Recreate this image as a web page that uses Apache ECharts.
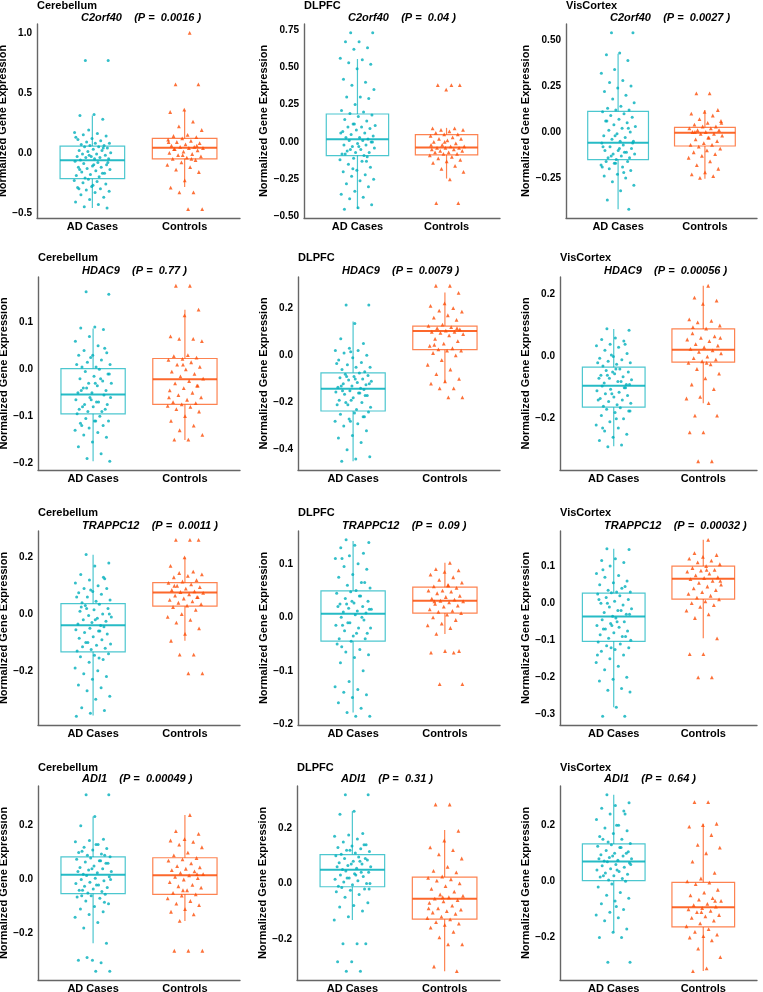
<!DOCTYPE html>
<html>
<head>
<meta charset="utf-8">
<title>Normalized gene expression, AD cases vs controls</title>
<script src="https://cdn.jsdelivr.net/npm/echarts@6/dist/echarts.min.js"></script>
<style>
html, body { margin: 0; padding: 0; background: #fff; }
#chart { width: 763px; height: 992px; }
</style>
</head>
<body>
<div id="chart"></div>
<script>
// panel labels
var regions = ['Cerebellum', 'DLPFC', 'VisCortex'];
var genes = ['C2orf40', 'HDAC9', 'TRAPPC12', 'ADI1'];
var groups = ['AD Cases', 'Controls'];
var pvals = [
  ['0.0016', '0.04', '0.0027'],
  ['0.77', '0.0079', '0.00056'],
  ['0.0011', '0.09', '0.00032'],
  ['0.00049', '0.31', '0.64']
];

// y tick labels, per gene row, one list per region
var ticksC2orf40 = [[-0.5, 0, 0.5, 1.0], [-0.5, -0.25, 0, 0.25, 0.5, 0.75], [-0.25, 0, 0.25, 0.5]];
var ticksHDAC9 = [[-0.2, -0.1, 0, 0.1], [-0.4, -0.2, 0, 0.2], [-0.2, 0, 0.2]];
var ticksTRAPPC12 = [[-0.2, 0, 0.2], [-0.2, -0.1, 0, 0.1], [-0.3, -0.2, -0.1, 0, 0.1]];
var ticksADI1 = [[-0.2, 0, 0.2], [-0.2, 0, 0.2], [-0.2, 0, 0.2]];

// box stats [lower whisker, Q1, median, Q3, upper whisker]; [AD, Controls] per region
var boxC2orf40 = [
  [[-0.46, -0.216, -0.062, 0.056, 0.31], [-0.286, -0.05, 0.042, 0.12, 0.353]],
  [[-0.448, -0.091, 0.018, 0.187, 0.555], [-0.245, -0.087, -0.038, 0.049, 0.094]],
  [[-0.42, -0.150, -0.058, 0.112, 0.426], [-0.254, -0.076, -0.004, 0.025, 0.12]]
];
var boxHDAC9 = [
  [[-0.196, -0.095, -0.054, 0.0014, 0.087], [-0.151, -0.075, -0.021, 0.023, 0.127]],
  [[-0.449, -0.236, -0.142, -0.074, 0.143], [-0.117, 0.024, 0.103, 0.124, 0.267]],
  [[-0.289, -0.163, -0.094, -0.034, 0.089], [-0.15, -0.018, 0.022, 0.089, 0.228]]
];
var boxTRAPPC12 = [
  [[-0.358, -0.133, -0.039, 0.037, 0.209], [-0.094, 0.028, 0.076, 0.111, 0.2]],
  [[-0.178, -0.0446, 0.0068, 0.0496, 0.1426], [-0.031, 0.008, 0.031, 0.0564, 0.102]],
  [[-0.281, -0.103, -0.036, 0.027, 0.147], [-0.095, 0.011, 0.066, 0.1, 0.171]]
];
var boxADI1 = [
  [[-0.2375, -0.0525, 0.0175, 0.084, 0.234], [-0.154, -0.055, 0.016, 0.081, 0.24]],
  [[-0.132, -0.012, 0.0496, 0.104, 0.261], [-0.317, -0.129, -0.0556, 0.023, 0.193]],
  [[-0.181, 0.0024, 0.071, 0.133, 0.308], [-0.319, -0.1625, -0.0925, -0.0036, 0.205]]
];

// individual samples, AD cases (per region)
var casesC2orf40 = [
  [0.77,0.77,0.32,0.31,0.28,0.19,0.17,0.16,0.15,0.14,0.12,0.11,0.10,0.09,0.08,0.08,0.07,0.06,0.06,0.13,
   0.05,0.05,0.04,0.03,0.02,0.02,0.01,0.0,-0.01,-0.01,-0.02,-0.03,-0.03,-0.04,-0.04,-0.05,-0.05,-0.06,0.04,-0.02,
   -0.07,-0.08,-0.09,-0.10,-0.11,-0.12,-0.12,-0.13,-0.14,-0.15,-0.16,-0.17,-0.18,-0.19,-0.20,-0.21,-0.08,-0.10,-0.14,-0.17,
   -0.22,-0.23,-0.24,-0.25,-0.26,-0.28,-0.29,-0.30,-0.31,-0.32,-0.33,-0.35,-0.37,-0.39,-0.41,-0.43,-0.45,-0.46,-0.27,-0.30],
  [0.73,0.73,0.67,0.67,0.63,0.62,0.56,0.55,0.53,0.52,0.49,0.42,0.40,0.38,0.35,0.30,0.30,0.29,0.25,0.21,0.20,0.19,
   0.18,0.17,0.15,0.14,0.12,0.11,0.10,0.10,0.09,0.08,0.07,0.06,0.05,0.04,0.03,0.03,0.02,0.12,0.06,0.01,
   0.01,0.0,-0.01,-0.02,-0.02,-0.03,-0.04,-0.05,-0.06,-0.07,-0.07,-0.08,-0.09,-0.05,0.0,-0.03,-0.08,
   -0.10,-0.11,-0.12,-0.13,-0.15,-0.17,-0.19,-0.20,-0.22,-0.23,-0.25,-0.26,-0.28,-0.30,-0.33,-0.35,-0.37,-0.38,-0.42,-0.44,-0.45,-0.13,-0.18],
  [0.54,0.54,0.43,0.42,0.39,0.34,0.32,0.28,0.27,0.25,0.24,0.22,0.20,0.18,0.16,0.14,0.13,0.12,0.12,0.11,
   0.10,0.09,0.08,0.07,0.06,0.05,0.04,0.03,0.02,0.01,0.0,-0.01,-0.02,-0.03,-0.04,-0.05,-0.05,0.06,0.02,-0.02,
   -0.06,-0.07,-0.08,-0.09,-0.10,-0.10,-0.11,-0.12,-0.12,-0.13,-0.14,-0.14,-0.15,-0.08,-0.11,-0.13,-0.06,-0.09,
   -0.16,-0.16,-0.17,-0.18,-0.19,-0.20,-0.21,-0.23,-0.24,-0.25,-0.27,-0.29,-0.32,-0.37,-0.42,-0.17,-0.19,-0.22]
];
var casesHDAC9 = [
  [0.165,0.16,0.09,0.088,0.085,0.07,0.06,0.05,0.04,0.035,0.03,0.03,0.02,0.015,0.01,0.005,0.005,0.045,0.025,0.01,
   0.0,-0.005,-0.01,-0.015,-0.02,-0.025,-0.03,-0.03,-0.035,-0.04,-0.045,-0.05,-0.05,-0.02,-0.04,-0.01,-0.03,-0.045,
   -0.055,-0.06,-0.065,-0.07,-0.075,-0.075,-0.08,-0.085,-0.09,-0.09,-0.06,-0.07,-0.08,-0.085,-0.065,-0.095,
   -0.1,-0.105,-0.11,-0.11,-0.115,-0.12,-0.125,-0.13,-0.135,-0.14,-0.145,-0.155,-0.165,-0.18,-0.19,-0.196,-0.11,-0.12],
  [0.213,0.213,0.135,0.07,0.05,0.03,0.02,0.02,0.01,0.0,-0.01,-0.02,-0.03,-0.04,-0.05,-0.05,-0.06,-0.07,0.015,-0.035,
   -0.075,-0.08,-0.085,-0.09,-0.095,-0.1,-0.105,-0.11,-0.115,-0.12,-0.125,-0.13,-0.135,-0.14,-0.09,-0.12,-0.1,-0.13,
   -0.145,-0.15,-0.155,-0.16,-0.165,-0.17,-0.18,-0.19,-0.2,-0.21,-0.22,-0.23,-0.15,-0.17,-0.19,-0.21,-0.16,-0.2,
   -0.24,-0.245,-0.25,-0.26,-0.27,-0.28,-0.29,-0.3,-0.32,-0.34,-0.35,-0.37,-0.4,-0.43,-0.44,-0.449,-0.26,-0.28],
  [0.09,0.085,0.06,0.055,0.05,0.04,0.035,0.03,0.02,0.01,0.0,-0.005,-0.01,-0.015,-0.02,-0.025,-0.03,0.04,0.005,-0.02,
   -0.04,-0.045,-0.05,-0.055,-0.06,-0.065,-0.07,-0.075,-0.08,-0.085,-0.09,-0.05,-0.07,-0.08,-0.06,-0.09,-0.04,
   -0.095,-0.1,-0.105,-0.11,-0.115,-0.12,-0.125,-0.13,-0.135,-0.14,-0.145,-0.15,-0.155,-0.16,-0.1,-0.12,-0.14,
   -0.165,-0.17,-0.175,-0.18,-0.19,-0.2,-0.21,-0.22,-0.23,-0.24,-0.25,-0.26,-0.27,-0.285,-0.29,-0.175,-0.2,-0.23]
];
var casesTRAPPC12 = [
  [0.21,0.18,0.17,0.14,0.13,0.12,0.11,0.1,0.09,0.09,0.08,0.075,0.07,0.06,0.05,0.045,0.04,0.125,0.085,0.06,
   0.035,0.03,0.02,0.015,0.01,0.0,-0.005,-0.01,-0.015,-0.02,-0.025,-0.03,-0.035,-0.04,0.02,0.0,-0.02,0.025,
   -0.045,-0.05,-0.055,-0.06,-0.065,-0.07,-0.08,-0.085,-0.09,-0.1,-0.105,-0.11,-0.115,-0.12,-0.125,-0.13,-0.06,-0.1,
   -0.14,-0.145,-0.15,-0.16,-0.17,-0.19,-0.2,-0.21,-0.22,-0.23,-0.25,-0.26,-0.27,-0.29,-0.3,-0.33,-0.34,-0.35,-0.36,-0.155],
  [0.145,0.14,0.135,0.13,0.12,0.115,0.11,0.1,0.095,0.09,0.08,0.075,0.065,0.06,0.055,0.05,0.11,0.065,
   0.048,0.045,0.04,0.035,0.03,0.027,0.025,0.02,0.017,0.015,0.012,0.01,0.008,0.03,0.02,0.04,0.025,0.015,
   0.005,0.0,-0.005,-0.01,-0.015,-0.02,-0.025,-0.03,-0.035,-0.04,0.0,-0.01,-0.02,-0.03,-0.015,-0.04,
   -0.045,-0.05,-0.06,-0.065,-0.07,-0.075,-0.085,-0.1,-0.12,-0.13,-0.135,-0.14,-0.145,-0.15,-0.16,-0.17,-0.178,-0.185,-0.185,-0.055],
  [0.147,0.145,0.12,0.115,0.11,0.1,0.08,0.075,0.07,0.06,0.055,0.05,0.04,0.035,0.03,0.03,0.09,0.045,0.028,
   0.025,0.02,0.015,0.01,0.005,0.0,-0.005,-0.01,-0.015,-0.02,-0.025,-0.03,-0.035,0.01,-0.02,0.0,-0.03,
   -0.04,-0.045,-0.05,-0.055,-0.06,-0.065,-0.07,-0.075,-0.08,-0.085,-0.09,-0.095,-0.1,-0.05,-0.07,-0.09,-0.06,
   -0.105,-0.11,-0.115,-0.12,-0.125,-0.13,-0.14,-0.15,-0.16,-0.17,-0.18,-0.2,-0.205,-0.21,-0.23,-0.235,-0.24,-0.281,-0.305,-0.305,-0.12,-0.14]
];
var casesADI1 = [
  [0.315,0.315,0.234,0.2,0.15,0.145,0.14,0.13,0.12,0.115,0.11,0.1,0.095,0.09,0.085,0.13,0.105,0.09,
   0.08,0.075,0.07,0.065,0.06,0.05,0.045,0.04,0.035,0.03,0.025,0.02,0.06,0.04,0.03,0.07,
   0.015,0.01,0.005,0.0,-0.005,-0.01,-0.015,-0.02,-0.025,-0.03,-0.035,-0.04,-0.045,-0.05,0.0,-0.02,-0.04,
   -0.055,-0.06,-0.065,-0.07,-0.08,-0.09,-0.1,-0.11,-0.12,-0.13,-0.14,-0.16,-0.18,-0.2375,-0.3,-0.3,-0.31,-0.29,-0.341,-0.341,-0.06,-0.085],
  [0.32,0.32,0.261,0.25,0.18,0.175,0.17,0.16,0.15,0.14,0.135,0.13,0.125,0.12,0.115,0.11,0.105,0.14,0.12,
   0.1,0.095,0.09,0.085,0.08,0.075,0.07,0.065,0.06,0.055,0.05,0.09,0.07,0.06,0.08,
   0.045,0.04,0.035,0.03,0.025,0.02,0.015,0.01,0.005,0.0,-0.005,-0.01,0.04,0.02,0.0,0.03,
   -0.015,-0.02,-0.025,-0.03,-0.04,-0.05,-0.07,-0.08,-0.085,-0.1,-0.12,-0.132,-0.218,-0.218,-0.218,-0.283,-0.283,-0.317,-0.317,-0.02],
  [0.308,0.28,0.27,0.26,0.25,0.24,0.22,0.2,0.19,0.18,0.17,0.16,0.15,0.14,0.135,0.2,0.15,0.24,
   0.13,0.125,0.12,0.11,0.105,0.1,0.095,0.09,0.085,0.08,0.075,0.072,0.1,0.09,0.08,0.12,
   0.07,0.065,0.06,0.055,0.05,0.045,0.04,0.035,0.03,0.025,0.02,0.015,0.01,0.005,0.06,0.04,0.02,
   0.0,-0.01,-0.02,-0.04,-0.05,-0.06,-0.07,-0.08,-0.1,-0.11,-0.12,-0.13,-0.14,-0.17,-0.181,-0.2,-0.2,-0.288,-0.288,-0.09]
];

// individual samples, controls (per region)
var ctrlC2orf40 = [
  [1.0,0.57,0.57,0.36,0.34,0.26,0.22,0.19,0.15,0.14,0.13,0.12,0.11,0.10,0.09,0.08,0.07,0.06,0.05,0.05,0.04,0.04,0.03,0.02,
   0.01,0.0,-0.01,-0.02,-0.03,-0.04,-0.05,-0.06,-0.08,-0.10,-0.12,-0.14,-0.16,-0.23,-0.29,-0.33,-0.33,-0.47,-0.47,0.03,0.06,-0.02,0.09,-0.05],
  [0.38,0.38,0.38,0.35,0.09,0.09,0.08,0.08,0.07,0.06,0.05,0.05,0.04,0.03,0.02,0.02,0.01,0.0,-0.01,-0.02,-0.03,-0.03,-0.04,-0.04,
   -0.04,-0.05,-0.05,-0.06,-0.06,-0.07,-0.07,-0.08,-0.08,-0.09,-0.10,-0.11,-0.12,-0.13,-0.14,-0.16,-0.18,-0.20,-0.25,-0.41,-0.41,0.0,-0.02],
  [0.21,0.21,0.12,0.11,0.10,0.09,0.07,0.06,0.05,0.04,0.03,0.03,0.02,0.02,0.01,0.01,0.0,0.0,-0.01,-0.01,-0.02,-0.03,
   -0.04,-0.05,-0.06,-0.07,-0.07,-0.08,-0.09,-0.10,-0.11,-0.12,-0.13,-0.14,-0.16,-0.18,-0.20,-0.22,-0.23,-0.24,-0.25,0.05,-0.03,0.0]
];
var ctrlHDAC9 = [
  [0.178,0.178,0.127,0.115,0.07,0.065,0.065,0.06,0.03,0.028,0.025,0.022,0.02,0.015,0.01,0.005,0.0,-0.005,-0.01,-0.015,-0.02,-0.025,-0.03,
   -0.035,-0.04,-0.045,-0.05,-0.055,-0.06,-0.065,-0.07,-0.072,-0.075,-0.078,-0.08,-0.085,-0.09,-0.1,-0.11,-0.12,-0.13,-0.14,-0.15,-0.15,-0.035,0.01,-0.06],
  [0.295,0.295,0.265,0.22,0.21,0.2,0.19,0.185,0.17,0.16,0.15,0.13,0.125,0.12,0.115,0.11,0.105,0.1,0.1,0.095,0.09,0.085,0.07,
   0.06,0.05,0.04,0.03,0.025,0.02,0.02,0.01,0.0,-0.02,-0.04,-0.06,-0.08,-0.1,-0.11,-0.12,-0.14,-0.14,-0.178,-0.178,0.045,0.115],
  [0.228,0.19,0.18,0.17,0.12,0.115,0.11,0.1,0.09,0.075,0.065,0.06,0.055,0.05,0.04,0.035,0.03,0.025,0.02,0.015,0.01,0.0,
   -0.005,-0.01,-0.015,-0.02,-0.025,-0.04,-0.055,-0.07,-0.09,-0.105,-0.13,-0.135,-0.15,-0.19,-0.19,-0.244,-0.244,-0.337,-0.337,0.06,-0.02,0.095]
];
var ctrlTRAPPC12 = [
  [0.262,0.262,0.262,0.2,0.17,0.15,0.145,0.14,0.135,0.13,0.12,0.115,0.11,0.105,0.1,0.095,0.09,0.085,0.08,0.078,0.075,0.07,
   0.065,0.06,0.055,0.05,0.045,0.04,0.035,0.03,0.025,0.015,0.0,-0.01,-0.02,-0.03,-0.05,-0.07,-0.094,-0.143,-0.143,-0.209,-0.209,0.1,0.06],
  [0.102,0.09,0.088,0.085,0.08,0.075,0.07,0.065,0.06,0.058,0.055,0.05,0.05,0.048,0.045,0.04,0.038,0.035,0.033,0.031,0.03,0.028,
   0.025,0.022,0.02,0.015,0.012,0.01,0.008,0.005,0.0,-0.005,-0.012,-0.015,-0.02,-0.031,-0.063,-0.063,-0.066,-0.066,-0.125,-0.125,0.06,0.03],
  [0.171,0.135,0.13,0.125,0.12,0.115,0.11,0.105,0.1,0.095,0.09,0.088,0.085,0.08,0.075,0.07,0.068,0.065,0.06,0.055,0.05,0.045,
   0.04,0.035,0.03,0.025,0.02,0.015,0.01,0.005,0.0,-0.005,-0.01,-0.02,-0.03,-0.04,-0.095,-0.1375,-0.1375,-0.2,-0.2,0.06,0.09]
];
var ctrlADI1 = [
  [0.24,0.18,0.17,0.15,0.145,0.14,0.13,0.12,0.1,0.09,0.08,0.075,0.07,0.06,0.05,0.045,0.04,0.035,0.03,0.025,0.02,0.015,0.01,
   0.005,0.0,-0.01,-0.02,-0.025,-0.03,-0.04,-0.05,-0.055,-0.06,-0.07,-0.08,-0.09,-0.095,-0.11,-0.12,-0.13,-0.154,-0.265,-0.265,-0.265,0.02,-0.04],
  [0.285,0.285,0.19,0.155,0.13,0.12,0.105,0.09,0.06,0.045,0.04,0.025,0.02,0.015,0.01,0.0,-0.01,-0.02,-0.03,-0.04,-0.045,-0.05,-0.055,
   -0.06,-0.065,-0.07,-0.08,-0.09,-0.095,-0.1,-0.105,-0.11,-0.12,-0.125,-0.13,-0.14,-0.145,-0.15,-0.16,-0.175,-0.195,-0.22,-0.22,-0.3,-0.317,-0.05,-0.09],
  [0.282,0.282,0.205,0.2,0.195,0.165,0.13,0.12,0.1,0.07,0.03,0.01,0.0,-0.005,-0.01,-0.03,-0.04,-0.05,-0.06,-0.065,-0.07,-0.08,-0.085,
   -0.09,-0.095,-0.1,-0.105,-0.11,-0.12,-0.125,-0.13,-0.14,-0.15,-0.16,-0.17,-0.18,-0.19,-0.195,-0.2,-0.21,-0.24,-0.27,-0.31,-0.32,-0.07,-0.11]
];

var allCases = [casesC2orf40, casesHDAC9, casesTRAPPC12, casesADI1];
var allCtrl = [ctrlC2orf40, ctrlHDAC9, ctrlTRAPPC12, ctrlADI1];
var allBoxes = [boxC2orf40, boxHDAC9, boxTRAPPC12, boxADI1];
var allTicks = [ticksC2orf40, ticksHDAC9, ticksTRAPPC12, ticksADI1];

// layout (pixels)
var rowTop = [24, 277, 531, 786];
var rowBottom = [218, 470, 725, 980];
var plotLeft = [[37, 304, 566], [38, 298, 560], [38, 298, 560], [38, 297, 560]];
var plotRight = [240, 500, 757];
var nameGaps = [[25, 31, 31], [25, 25, 25], [25, 25, 25], [25, 25, 25]];
var titleY = [[6, 17.5], [258, 270.5], [513, 526], [767.5, 779]];

var colors = ['#00AFBB', '#FC4E07'];
var FONT = '"Liberation Sans", Arial, Helvetica, sans-serif';

function jitter(i) {
  return ((i * 0.6180339887 + 0.31) % 1 - 0.5) * 0.4;
}

function decimalsOf(ticks) {
  var d = 1;
  ticks.forEach(function (t) {
    var s = String(t).split('.')[1] || '';
    if (s.length > d) d = s.length;
  });
  return d;
}

function renderBox(params, api) {
  var x = api.value(0);
  var g = api.value(6);
  var half = 0.35;
  var pMin = api.coord([x, api.value(1)]);
  var pQ1 = api.coord([x, api.value(2)]);
  var pMed = api.coord([x, api.value(3)]);
  var pQ3 = api.coord([x, api.value(4)]);
  var pMax = api.coord([x, api.value(5)]);
  var xl = api.coord([x - half, 0])[0];
  var xr = api.coord([x + half, 0])[0];
  var c = colors[g];
  var thin = { stroke: c, lineWidth: 1.2, opacity: 0.7, fill: null };
  return {
    type: 'group',
    children: [
      { type: 'line', shape: { x1: pMin[0], y1: pMin[1], x2: pQ1[0], y2: pQ1[1] }, style: thin },
      { type: 'line', shape: { x1: pQ3[0], y1: pQ3[1], x2: pMax[0], y2: pMax[1] }, style: thin },
      { type: 'rect', shape: { x: xl, y: pQ3[1], width: xr - xl, height: pQ1[1] - pQ3[1] }, style: thin },
      { type: 'line', shape: { x1: xl, y1: pMed[1], x2: xr, y2: pMed[1] }, style: { stroke: c, lineWidth: 2, opacity: 0.85 } }
    ]
  };
}

var grids = [], xAxes = [], yAxes = [], series = [], graphics = [];

for (var r = 0; r < 4; r++) {
  for (var c = 0; c < 3; c++) {
    var k = r * 3 + c;
    var cases = allCases[r][c];
    var ctrl = allCtrl[r][c];
    var box = allBoxes[r][c];
    var ticks = allTicks[r][c];
    var lo = Math.min.apply(null, cases.concat(ctrl));
    var hi = Math.max.apply(null, cases.concat(ctrl));
    var pad = (hi - lo) * 0.05;
    var dec = decimalsOf(ticks);

    grids.push({
      left: plotLeft[r][c],
      top: rowTop[r],
      width: plotRight[c] - plotLeft[r][c],
      height: rowBottom[r] - rowTop[r],
      containLabel: false,
      outerBoundsMode: 'none'
    });

    xAxes.push({
      type: 'value', gridIndex: k, min: 0.4, max: 2.6,
      axisLine: { show: true, onZero: false, lineStyle: { color: '#666', width: 1.4 } },
      axisTick: { show: false },
      splitLine: { show: false },
      axisLabel: {
        customValues: [1, 2],
        margin: 3,
        color: '#000', fontWeight: 'bold', fontSize: 11, fontFamily: FONT,
        formatter: function (v) { return groups[Math.round(v) - 1]; }
      }
    });

    yAxes.push({
      type: 'value', gridIndex: k, min: lo - pad, max: hi + pad,
      name: 'Normalized Gene Expression',
      nameLocation: 'middle',
      nameGap: nameGaps[r][c],
      nameTextStyle: { color: '#000', fontWeight: 'bold', fontSize: 11, fontFamily: FONT },
      axisLine: { show: true, onZero: false, lineStyle: { color: '#666', width: 1.4 } },
      axisTick: { show: false },
      splitLine: { show: false },
      axisLabel: {
        customValues: ticks,
        margin: 5,
        color: '#000', fontWeight: 'bold', fontSize: 10, fontFamily: FONT,
        formatter: (function (d) {
          return function (v) { return v.toFixed(d).replace('-', '\u2212'); };
        })(dec)
      }
    });

    series.push({
      type: 'custom', xAxisIndex: k, yAxisIndex: k, z: 1, silent: true,
      renderItem: renderBox,
      encode: { x: 0, y: [1, 2, 3, 4, 5] },
      data: [[1].concat(box[0], [0]), [2].concat(box[1], [1])]
    });
    series.push({
      type: 'scatter', xAxisIndex: k, yAxisIndex: k, z: 2, silent: true,
      symbol: 'circle', symbolSize: 3,
      itemStyle: { color: colors[0] },
      data: cases.map(function (v, i) { return [1 + jitter(i), v]; })
    });
    series.push({
      type: 'scatter', xAxisIndex: k, yAxisIndex: k, z: 2, silent: true,
      symbol: 'triangle', symbolSize: 3.8,
      itemStyle: { color: colors[1] },
      data: ctrl.map(function (v, i) { return [2 + jitter(i + 7), v]; })
    });

    graphics.push({
      type: 'text', x: plotLeft[r][c], y: titleY[r][0],
      style: {
        text: regions[c], fill: '#000',
        font: 'bold 11px ' + FONT,
        textAlign: 'left', textVerticalAlign: 'middle', align: 'left', verticalAlign: 'middle'
      }
    });
    graphics.push({
      type: 'text', x: plotLeft[r][c] + 44, y: titleY[r][1],
      style: {
        text: genes[r] + '    (P =  ' + pvals[r][c] + ' )', fill: '#000',
        font: 'italic bold 11px ' + FONT,
        textAlign: 'left', textVerticalAlign: 'middle', align: 'left', verticalAlign: 'middle'
      }
    });
  }
}

var chart = echarts.init(document.getElementById('chart'));
chart.setOption({
  animation: false,
  backgroundColor: '#fff',
  grid: grids,
  xAxis: xAxes,
  yAxis: yAxes,
  series: series,
  graphic: graphics
});
</script>
</body>
</html>
